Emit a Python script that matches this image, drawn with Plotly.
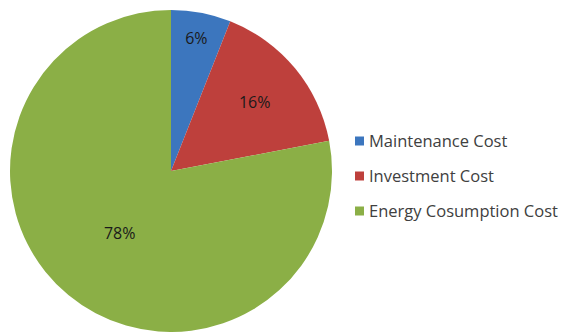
import plotly.graph_objects as go

categories = ["Maintenance Cost", "Investment Cost", "Energy Cosumption Cost"]
values = [6, 16, 78]
colors = ["#3C76BE", "#BE403C", "#8BAF46"]

W, H = 564, 332

fig = go.Figure(go.Pie(
    labels=categories,
    values=values,
    sort=False,
    direction="clockwise",
    rotation=0,
    marker=dict(colors=colors, line=dict(width=0)),
    textinfo="percent",
    texttemplate="%{percent:.0%}",
    textposition="inside",
    insidetextorientation="horizontal",
    textfont=dict(family="Open Sans", size=16, color="#1a1a1a"),
    domain=dict(x=[10 / W, 332 / W], y=[0, 1 - 10 / H]),
    showlegend=False,
    hoverinfo="label+percent",
))

# manual legend built from the category list
legend_x = 355
legend_y0 = 141
legend_step = 35
shapes = []
annotations = []
for i, (cat, col) in enumerate(zip(categories, colors)):
    yc = legend_y0 + i * legend_step
    shapes.append(dict(type="rect", xref="paper", yref="paper",
                       x0=legend_x / W, x1=(legend_x + 9) / W,
                       y0=1 - (yc + 4.5) / H, y1=1 - (yc - 4.5) / H,
                       fillcolor=col, line=dict(width=0)))
    annotations.append(dict(xref="paper", yref="paper",
                            x=(legend_x + 12) / W, y=1 - (yc - 1) / H,
                            xanchor="left", yanchor="middle",
                            text=cat, showarrow=False,
                            font=dict(family="Open Sans", size=16.5, color="#404040")))

fig.update_layout(
    width=W, height=H,
    margin=dict(l=0, r=0, t=0, b=0),
    paper_bgcolor="white",
    plot_bgcolor="white",
    shapes=shapes,
    annotations=annotations,
)

fig.write_html("out.html")
